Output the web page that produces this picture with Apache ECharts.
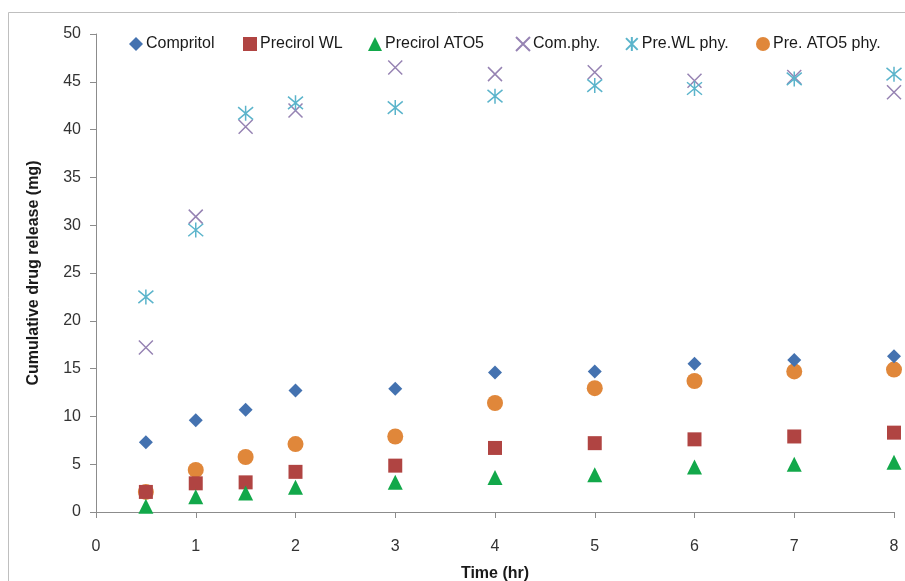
<!DOCTYPE html>
<html><head><meta charset="utf-8">
<script src="https://cdn.jsdelivr.net/npm/echarts@6/dist/echarts.min.js"></script>
<style>html,body{margin:0;padding:0;background:#fff}#c{width:905px;height:581px}</style>
</head><body><div id="c"></div>
<script>
var times = [0.5, 1, 1.5, 2, 3, 4, 5, 6, 7, 8];
var compritol = [7.3, 9.6, 10.7, 12.7, 12.9, 14.6, 14.7, 15.5, 15.9, 16.3];
var precirolWL = [2.1, 3.0, 3.1, 4.2, 4.85, 6.7, 7.2, 7.6, 7.9, 8.3];
var precirolATO5 = [0.6, 1.6, 2.0, 2.6, 3.1, 3.6, 3.9, 4.7, 5.0, 5.2];
var comPhy = [17.2, 30.9, 40.3, 42.0, 46.5, 45.8, 46.0, 45.1, 45.5, 43.9];
var preWLPhy = [22.5, 29.5, 41.7, 42.8, 42.3, 43.5, 44.6, 44.3, 45.3, 45.8];
var preATO5Phy = [2.1, 4.4, 5.75, 7.1, 7.9, 11.4, 12.95, 13.7, 14.7, 14.9];
var seriesNames = ['Compritol', 'Precirol WL', 'Precirol ATO5', 'Com.phy.', 'Pre.WL phy.', 'Pre. ATO5 phy.'];
var yTicks = [0, 5, 10, 15, 20, 25, 30, 35, 40, 45, 50];
var xTicks = [0, 1, 2, 3, 4, 5, 6, 7, 8];

function pairs(v) { return times.map(function (t, i) { return [t, v[i]]; }); }
var FONT = 'Liberation Sans';
var crossPath = 'path://M0,0L10,10M10,0L0,10';
var starPath = 'path://M0,0L10,10M10,0L0,10M5,-1L5,11';

var styles = [
  { data: compritol, symbol: 'diamond', size: 14, itemStyle: { color: '#4472B0', opacity: 1 } },
  { data: precirolWL, symbol: 'rect', size: 14, itemStyle: { color: '#B04442', opacity: 1 } },
  { data: precirolATO5, symbol: 'triangle', size: 15, itemStyle: { color: '#12A84A', opacity: 1 } },
  { data: comPhy, symbol: crossPath, size: 14, itemStyle: { color: 'rgba(0,0,0,0)', borderColor: '#9683B3', borderWidth: 1.5, opacity: 1 } },
  { data: preWLPhy, symbol: starPath, size: 15, itemStyle: { color: 'rgba(0,0,0,0)', borderColor: '#5BB4CB', borderWidth: 1.5, opacity: 1 } },
  { data: preATO5Phy, symbol: 'circle', size: 16, itemStyle: { color: '#E0873A', opacity: 1 } }
];

var series = seriesNames.map(function (n, i) {
  var s = styles[i];
  return { name: n, type: 'scatter', data: pairs(s.data), symbol: s.symbol, symbolSize: s.size, itemStyle: s.itemStyle, z: 2 + (i === 5 ? -1 : 0) };
});

var legendLefts = [124, 238, 363, 510, 620, 751];
var legends = seriesNames.map(function (n, i) {
  return {
    data: [n], left: legendLefts[i], top: 31, itemWidth: 14, itemHeight: 14, itemGap: 0,
    textStyle: { fontFamily: FONT, fontSize: 16, color: '#1a1a1a', padding: [0, 0, 0, -2] },
    selectedMode: false
  };
});

var chart = echarts.init(document.getElementById('c'), null, { renderer: 'canvas' });
chart.setOption({
  animation: false,
  backgroundColor: '#fff',
  graphic: [{ type: 'polyline', shape: { points: [[8.5, 590], [8.5, 12.5], [910, 12.5]] }, style: { stroke: '#BFBFBF', lineWidth: 1, fill: null }, silent: true }],
  legend: legends,
  grid: { left: 96, right: 11, top: 34, bottom: 69, containLabel: false, outerBoundsMode: 'none' },
  xAxis: {
    type: 'value', min: 0, max: 8, interval: 1,
    name: 'Time (hr)', nameLocation: 'middle', nameGap: 54,
    nameTextStyle: { fontFamily: FONT, fontWeight: 'bold', fontSize: 16, color: '#1a1a1a' },
    axisLine: { show: true, onZero: false, lineStyle: { color: '#8C8C8C', width: 1 } },
    axisTick: { show: true, length: 6, inside: false, lineStyle: { color: '#8C8C8C' } },
    axisLabel: { fontFamily: FONT, fontSize: 16, color: '#333', margin: 27 },
    splitLine: { show: false }
  },
  yAxis: {
    type: 'value', min: 0, max: 50, interval: 5,
    name: 'Cumulative drug release (mg)', nameLocation: 'middle', nameGap: 54,
    nameTextStyle: { fontFamily: FONT, fontWeight: 'bold', fontSize: 16, color: '#1a1a1a' },
    axisLine: { show: true, lineStyle: { color: '#8C8C8C', width: 1 } },
    axisTick: { show: true, length: 6, inside: false, lineStyle: { color: '#8C8C8C' } },
    axisLabel: { fontFamily: FONT, fontSize: 16, color: '#333', margin: 15 },
    splitLine: { show: false }
  },
  series: series
});
</script></body></html>
